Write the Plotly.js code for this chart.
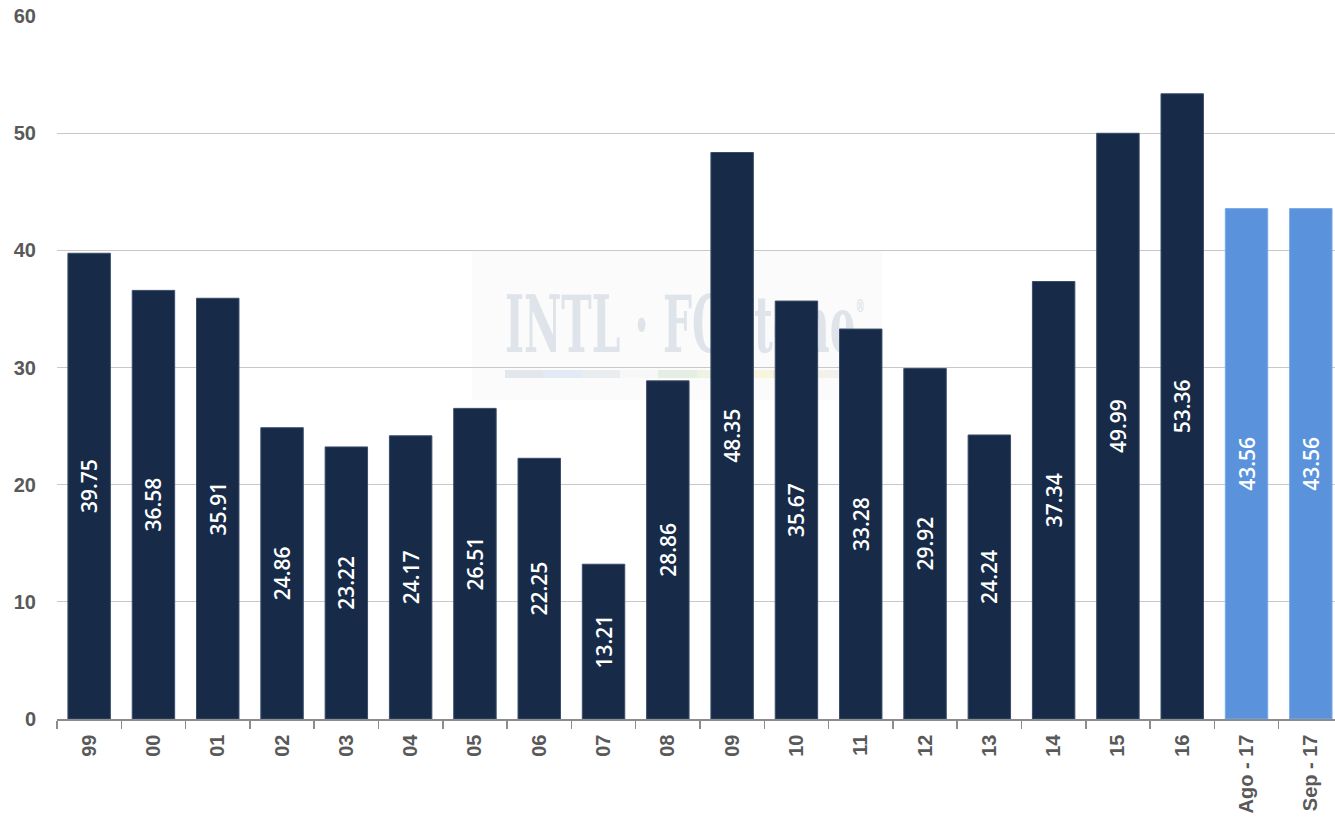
<!DOCTYPE html>
<html>
<head>
<meta charset="utf-8">
<script src="https://cdn.plot.ly/plotly-3.0.1.min.js"></script>
<style>
  html, body { margin: 0; padding: 0; background: #ffffff; }
  #wrap { position: relative; width: 1335px; height: 819px; overflow: hidden; }
  #wm { position: absolute; left: 472px; top: 250px; width: 410px; height: 150px; background: #fbfbfb; }
  #wmtext { position: absolute; left: 33px; top: 36px; font-family: "DejaVu Serif", serif; font-weight: bold;
            font-size: 78px; line-height: 78px; color: #dfe3ea; white-space: nowrap; transform-origin: 0 0; }
  #wmstripe { position: absolute; left: 33px; top: 120px; height: 8px; width: 345px; display: flex; }
  #wmstripe div { flex: 1; }
  #chart { position: absolute; left: 0; top: 0; }
</style>
</head>
<body>
<div id="wrap">
  <div id="wm">
    <span id="wmtext">INTL · FCStone<sup style="font-size:18px;vertical-align:top;line-height:40px">®</sup></span>
    <div id="wmstripe">
      <div style="background:#e3e6ec"></div><div style="background:#e2ebf5"></div><div style="background:#eaedf0"></div>
      <div style="background:#f7f7f7"></div><div style="background:#e4eee2"></div><div style="background:#eef3e4"></div>
      <div style="background:#f8f5df"></div><div style="background:#f8e9e0"></div><div style="background:#f4f1ea"></div>
    </div>
  </div>
  <div id="chart"></div>
</div>
<script>
// Data
const histCategories = ["99","00","01","02","03","04","05","06","07","08","09","10","11","12","13","14","15","16"];
const histValues = [39.75,36.58,35.91,24.86,23.22,24.17,26.51,22.25,13.21,28.86,48.35,35.67,33.28,29.92,24.24,37.34,49.99,53.36];
const fcstCategories = ["Ago - 17","Sep - 17"];
const fcstValues = [43.56,43.56];
const yTicks = [0,10,20,30,40,50,60];

// watermark width fit
(function(){
  const t = document.getElementById('wmtext');
  const w = t.getBoundingClientRect().width;
  t.style.transform = 'scaleX(' + (360 / w) + ')';
})();

const allCategories = histCategories.concat(fcstCategories);
const labelFont = {family: "Open Sans, Liberation Sans, Arial, sans-serif", size: 21, color: "#ffffff", weight: 600};

const traces = [
  {
    type: "bar",
    x: histCategories,
    y: histValues,
    text: histValues.map(v => v.toFixed(2)),
    textposition: "inside",
    insidetextanchor: "middle",
    textangle: -90,
    constraintext: "none",
    insidetextfont: labelFont,
    marker: {color: "#172a48", line: {color: "#3a4c6b", width: 1}},
    hoverinfo: "x+y",
    showlegend: false
  },
  {
    type: "bar",
    x: fcstCategories,
    y: fcstValues,
    text: fcstValues.map(v => v.toFixed(2)),
    textposition: "inside",
    insidetextanchor: "middle",
    textangle: -90,
    constraintext: "none",
    insidetextfont: labelFont,
    marker: {color: "#5a93dc", line: {color: "#7aa9e4", width: 1}},
    hoverinfo: "x+y",
    showlegend: false
  }
];

const tickFont = {family: "Liberation Sans, Arial, sans-serif", size: 20, color: "#595959", weight: "bold"};

const layout = {
  width: 1335,
  height: 819,
  margin: {l: 57, r: 0, t: 16, b: 100},
  paper_bgcolor: "rgba(0,0,0,0)",
  plot_bgcolor: "rgba(0,0,0,0)",
  barmode: "overlay",
  bargap: 0.34,
  showlegend: false,
  xaxis: {
    type: "category",
    categoryorder: "array",
    categoryarray: allCategories,
    range: [-0.5, 19.376],
    tickangle: -90,
    tickfont: tickFont,
    ticks: "outside",
    tickson: "boundaries",
    ticklen: 8,
    tickcolor: "#8c8c8c",
    tickwidth: 1.5,
    showline: true,
    linecolor: "#8c8c8c",
    linewidth: 1.5,
    showgrid: false,
    ticklabelstandoff: 6
  },
  yaxis: {
    range: [0, 60],
    tickvals: yTicks,
    ticktext: yTicks.map(String),
    tickfont: tickFont,
    showgrid: true,
    gridcolor: "#c8c8c8",
    gridwidth: 1,
    zeroline: false,
    showline: false,
    ticks: "",
    ticklabelstandoff: 20
  }
};

Plotly.newPlot("chart", traces, layout, {displayModeBar: false, staticPlot: true});
</script>
</body>
</html>
